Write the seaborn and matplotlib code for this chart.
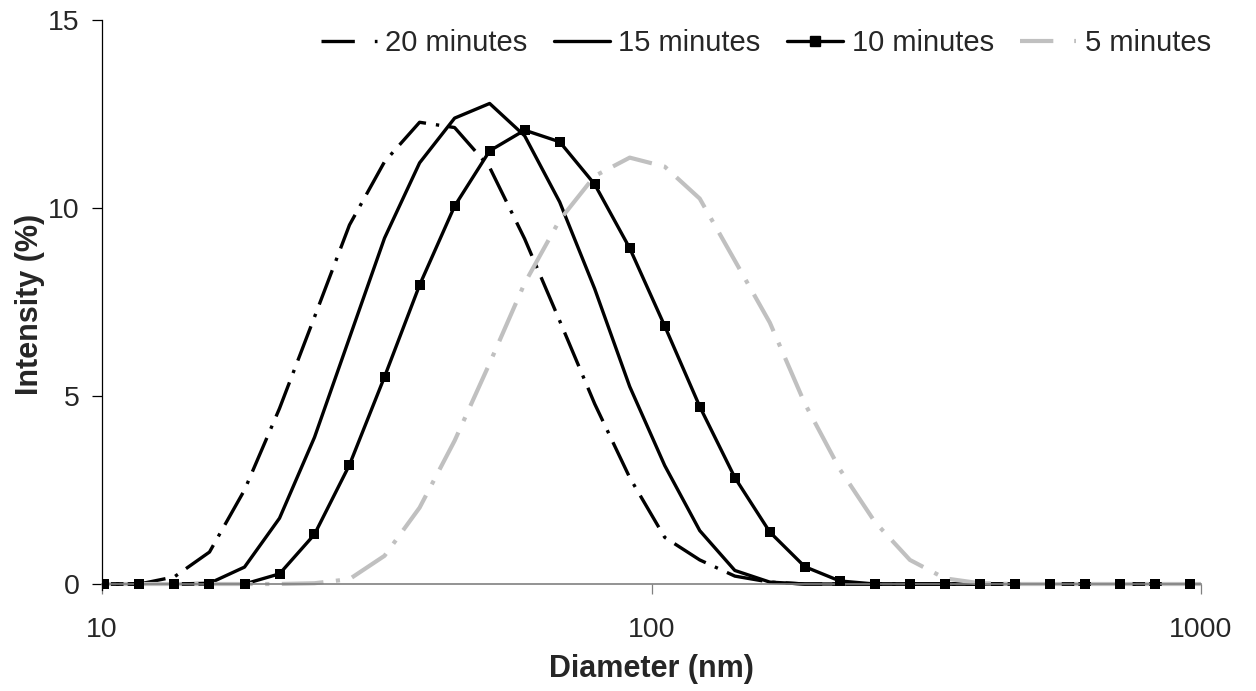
import matplotlib
matplotlib.use("Agg")
import matplotlib.pyplot as plt
from matplotlib.lines import Line2D
import pandas as pd
import seaborn as sns

# Malvern size bins (nm) and intensity (%) per bin
diameter = [8.721, 10.1, 11.7, 13.54, 15.69, 18.17, 21.04, 24.36, 28.21, 32.67,
            37.84, 43.82, 50.75, 58.77, 68.06, 78.82, 91.28, 105.7, 122.4, 141.8,
            164.2, 190.1, 220.2, 255.0, 295.3, 342.0, 396.1, 458.7, 531.2, 615.1,
            712.4, 825.0, 955.4, 1106]

min20 = [0, 0, 0, 0.19, 0.85, 2.5, 4.67, 7.1, 9.55, 11.23,
         12.28, 12.14, 11.08, 9.18, 7.0, 4.79, 2.83, 1.24, 0.64, 0.21,
         0.05, 0, 0, 0, 0, 0, 0, 0, 0, 0,
         0, 0, 0, 0]
min15 = [0, 0, 0, 0, 0.02, 0.45, 1.75, 3.9, 6.55, 9.2,
         11.2, 12.39, 12.78, 11.92, 10.16, 7.85, 5.25, 3.15, 1.42, 0.36,
         0.05, 0, 0, 0, 0, 0, 0, 0, 0, 0,
         0, 0, 0, 0]
min10 = [0, 0, 0, 0, 0, 0, 0.27, 1.32, 3.17, 5.51,
         7.95, 10.05, 11.52, 12.07, 11.76, 10.63, 8.93, 6.86, 4.72, 2.83,
         1.38, 0.46, 0.08, 0, 0, 0, 0, 0, 0, 0,
         0, 0, 0, 0]
min5 = [0, 0, 0, 0, 0, 0, 0, 0.02, 0.13, 0.75,
        2.03, 3.81, 5.87, 8.0, 9.68, 10.85, 11.34, 11.1, 10.25, 8.6,
        6.95, 4.8, 3.05, 1.65, 0.64, 0.15, 0.02, 0, 0, 0,
        0, 0, 0, 0]

labels = ['20 minutes', '15 minutes', '10 minutes', '5 minutes']

df = pd.DataFrame({'Diameter': diameter, '20 minutes': min20, '15 minutes': min15,
                   '10 minutes': min10, '5 minutes': min5})

sns.set_style('white')
plt.rcParams['font.family'] = ['Liberation Sans', 'DejaVu Sans']

W, H = 1256, 691
fig = plt.figure(figsize=(W / 100, H / 100), dpi=100)
# plot area in pixels: x 102..1201, y=15 at 20, y=0 at 584
ymin = -0.15
px_per_unit = (584 - 20) / 15
bottom_px = 584 - ymin * px_per_unit
ax = fig.add_axes([102 / W, 1 - bottom_px / H, (1201 - 102) / W, (bottom_px - 20) / H])

grey = '#C0C0C0'
lgdashdot = (0, (11, 3, 1, 3))

sns.lineplot(data=df, x='Diameter', y='20 minutes', ax=ax, color='black', lw=2.4,
             linestyle=lgdashdot, dash_capstyle='butt', estimator=None, sort=False, zorder=2)
sns.lineplot(data=df, x='Diameter', y='15 minutes', ax=ax, color='black', lw=2.4,
             estimator=None, sort=False, zorder=2)
sns.lineplot(data=df, x='Diameter', y='10 minutes', ax=ax, color='black', lw=2.4,
             estimator=None, sort=False, zorder=2)
sns.lineplot(data=df, x='Diameter', y='5 minutes', ax=ax, color=grey, lw=3.0,
             linestyle=(0, (10, 3, 1, 3)), dash_capstyle='butt', estimator=None,
             sort=False, zorder=2.2)
sns.scatterplot(data=df, x='Diameter', y='10 minutes', ax=ax, color='black', marker='s',
                s=44, linewidth=0, zorder=3)

ax.set_xscale('log')
ax.set_xlim(10, 1000)
ax.set_ylim(ymin, 15)
ax.set_xticks([10, 100, 1000])
ax.set_xticklabels(['10', '100', '1000'])
ax.minorticks_off()
ax.set_yticks([0, 5, 10, 15])

for s in ['top', 'right']:
    ax.spines[s].set_visible(False)
ax.spines['left'].set_color('black')
ax.spines['left'].set_linewidth(0.9)
ax.spines['bottom'].set_position(('data', 0))
ax.spines['bottom'].set_color('#808080')
ax.spines['bottom'].set_linewidth(1.2)

ax.tick_params(axis='y', which='major', direction='out', length=7, width=0.9,
               color='black', pad=9, labelsize=20.5, left=True)
ax.tick_params(axis='x', which='major', direction='out', length=7, width=0.9,
               color='#808080', pad=17, labelsize=20.5, bottom=True)

ax.set_xlabel('Diameter (nm)', fontsize=22, fontweight='bold', labelpad=8)
ax.set_ylabel('Intensity (%)', fontsize=22, fontweight='bold', labelpad=2)

handles = [
    Line2D([], [], color='black', lw=2.4, linestyle=(0, (10, 6, 1, 3)), dash_capstyle='butt'),
    Line2D([], [], color='black', lw=2.4),
    Line2D([], [], color='black', lw=2.4, marker='s', markersize=6.5),
    Line2D([], [], color=grey, lw=3.0, linestyle=(0, (8, 5, 1, 3)), dash_capstyle='butt'),
]
ax.legend(handles, labels, loc='upper right', ncol=4, frameon=False, fontsize=21,
          handlelength=1.92, handletextpad=0.3, columnspacing=0.9, numpoints=1,
          borderaxespad=0, borderpad=0,
          bbox_to_anchor=(1211 / W, 1 - 29 / H), bbox_transform=fig.transFigure)

fig.savefig('out.png', dpi=100)
